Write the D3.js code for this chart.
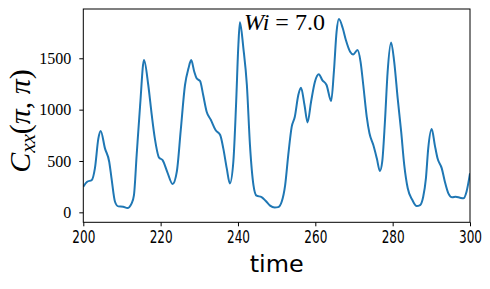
<!DOCTYPE html>
<html>
<head>
<meta charset="utf-8">
<script src="https://cdn.jsdelivr.net/npm/d3@7"></script>
<style>
  body { margin: 0; background: #fff; }
  svg { display: block; }
</style>
</head>
<body>
<div id="chart"></div>
<script>
// values
const time = [200.0, 201.0, 202.2, 203.0, 203.9, 204.5, 205.6, 206.7, 207.3, 208.2,
  209.05, 210.3, 211.4, 212.5, 213.1, 213.8, 214.7, 215.7, 216.8, 217.7,
  218.5, 219.6, 220.5, 221.7, 223.1, 224.2, 225.2, 226.3, 227.2, 227.9,
  228.7, 229.3, 230.2, 231.0, 231.9, 233.0, 234.2, 235.4, 236.2, 237.1,
  237.9, 238.8, 239.5, 240.1, 240.5, 241.4, 242.3, 243.1, 244.0, 244.8,
  246.1, 247.2, 248.3, 249.5, 250.4, 251.3, 252.2, 253.0, 253.9, 254.7,
  255.6, 256.3, 257.2, 258.0, 258.9, 259.9, 260.9, 261.8, 262.9, 264.1,
  264.8, 265.5, 266.1, 267.1, 267.9, 269.0, 269.8, 270.9, 271.7, 272.4,
  273.3, 274.0, 275.0, 275.9, 276.7, 277.3, 278.0, 278.7, 279.6, 280.4,
  281.3, 282.2, 283.0, 283.9, 285.1, 286.2, 287.1, 287.9, 288.6, 289.2,
  290.1, 290.9, 291.6, 292.7, 293.5, 294.4, 295.4, 296.3, 297.4, 298.3,
  299.1, 300.0];
const cxx = [249, 298, 315, 428, 720, 792, 623, 493, 331, 103,
  58, 55, 42, 88, 168, 558, 1045, 1483, 1240, 948,
  720, 532, 509, 395, 276, 400, 800, 1240, 1402, 1483,
  1369, 1305, 1278, 1142, 980, 899, 801, 753, 623, 428,
  282, 493, 1045, 1629, 1850, 1597, 1240, 655, 266, 162,
  149, 110, 65, 47, 51, 103, 266, 558, 834, 931,
  1142, 1213, 1045, 876, 1077, 1272, 1344, 1288, 1240, 1084,
  1369, 1759, 1882, 1792, 1678, 1564, 1538, 1580, 1466, 1240,
  930, 770, 655, 526, 402, 493, 882, 1369, 1655, 1466,
  1110, 785, 460, 234, 120, 61, 71, 152, 331, 623,
  811, 655, 526, 428, 298, 185, 146, 152, 142, 136,
  201, 380];
const xTicks = [200, 220, 240, 260, 280, 300];
const yTicks = [0, 500, 1000, 1500];

const width = 490, height = 289;
const margin = {top: 9, right: 20, bottom: 66.7, left: 83.3};

const svg = d3.select("#chart").append("svg")
    .attr("width", width)
    .attr("height", height);

const x = d3.scaleLinear().domain([200, 300]).range([margin.left, width - margin.right]);
const y = d3.scaleLinear().domain([-97, 1980]).range([height - margin.bottom, margin.top]);

const points = time.map((t, i) => [t, cxx[i]]);

// curve, clipped to the axes box
svg.append("clipPath").attr("id", "clip")
  .append("rect")
    .attr("x", margin.left).attr("y", margin.top)
    .attr("width", width - margin.left - margin.right)
    .attr("height", height - margin.top - margin.bottom);

svg.append("path")
    .datum(points)
    .attr("clip-path", "url(#clip)")
    .attr("fill", "none")
    .attr("stroke", "#1f77b4")
    .attr("stroke-width", 2)
    .attr("stroke-linejoin", "round")
    .attr("d", d3.line()
        .x(d => x(d[0]))
        .y(d => y(d[1]))
        .curve(d3.curveMonotoneX));

// axes
const xAxis = svg.append("g")
    .attr("transform", `translate(0,${height - margin.bottom})`)
    .call(d3.axisBottom(x).tickValues(xTicks).tickSize(4).tickSizeOuter(0).tickPadding(5));
xAxis.attr("font-family", "DejaVu Sans").attr("font-size", 17);
xAxis.selectAll("text")
    .attr("fill", "#000")
    .attr("textLength", 23)
    .attr("lengthAdjust", "spacingAndGlyphs");

const yAxis = svg.append("g")
    .attr("transform", `translate(${margin.left},0)`)
    .call(d3.axisLeft(y).tickValues(yTicks).tickFormat(d3.format("d")).tickSize(4).tickSizeOuter(0).tickPadding(8));
yAxis.attr("font-family", "Liberation Serif").attr("font-size", 16);
yAxis.selectAll("text").attr("fill", "#000");

svg.selectAll(".domain").remove();
svg.selectAll(".tick line").attr("stroke", "#000").attr("stroke-width", 1);

// frame
svg.append("rect")
    .attr("x", margin.left).attr("y", margin.top)
    .attr("width", width - margin.left - margin.right)
    .attr("height", height - margin.top - margin.bottom)
    .attr("fill", "none")
    .attr("stroke", "#000")
    .attr("stroke-width", 1);

// x label
svg.append("text")
    .attr("x", (margin.left + width - margin.right) / 2)
    .attr("y", 272)
    .attr("text-anchor", "middle")
    .attr("font-family", "DejaVu Sans")
    .attr("font-size", 23)
    .attr("textLength", 54)
    .attr("lengthAdjust", "spacingAndGlyphs")
    .text("time");

// y label: C_xx(pi, pi)
const yl = svg.append("text")
    .attr("transform", "translate(30,121) rotate(-90)")
    .attr("text-anchor", "middle")
    .attr("font-family", "Liberation Serif")
    .attr("font-size", 30);
yl.append("tspan").attr("font-style", "italic").text("C");
yl.append("tspan").attr("font-style", "italic").attr("font-size", 21).attr("dy", 5).text("xx");
yl.append("tspan").attr("dy", -5).text("(");
yl.append("tspan").attr("font-style", "italic").text("π");
yl.append("tspan").text(", ");
yl.append("tspan").attr("font-style", "italic").text("π");
yl.append("tspan").text(")");

// annotation
const ann = svg.append("text")
    .attr("x", 244)
    .attr("y", 30)
    .attr("font-family", "Liberation Serif")
    .attr("font-size", 24);
ann.append("tspan").attr("font-style", "italic").text("Wi");
ann.append("tspan").text(" = 7.0");
</script>
</body>
</html>
